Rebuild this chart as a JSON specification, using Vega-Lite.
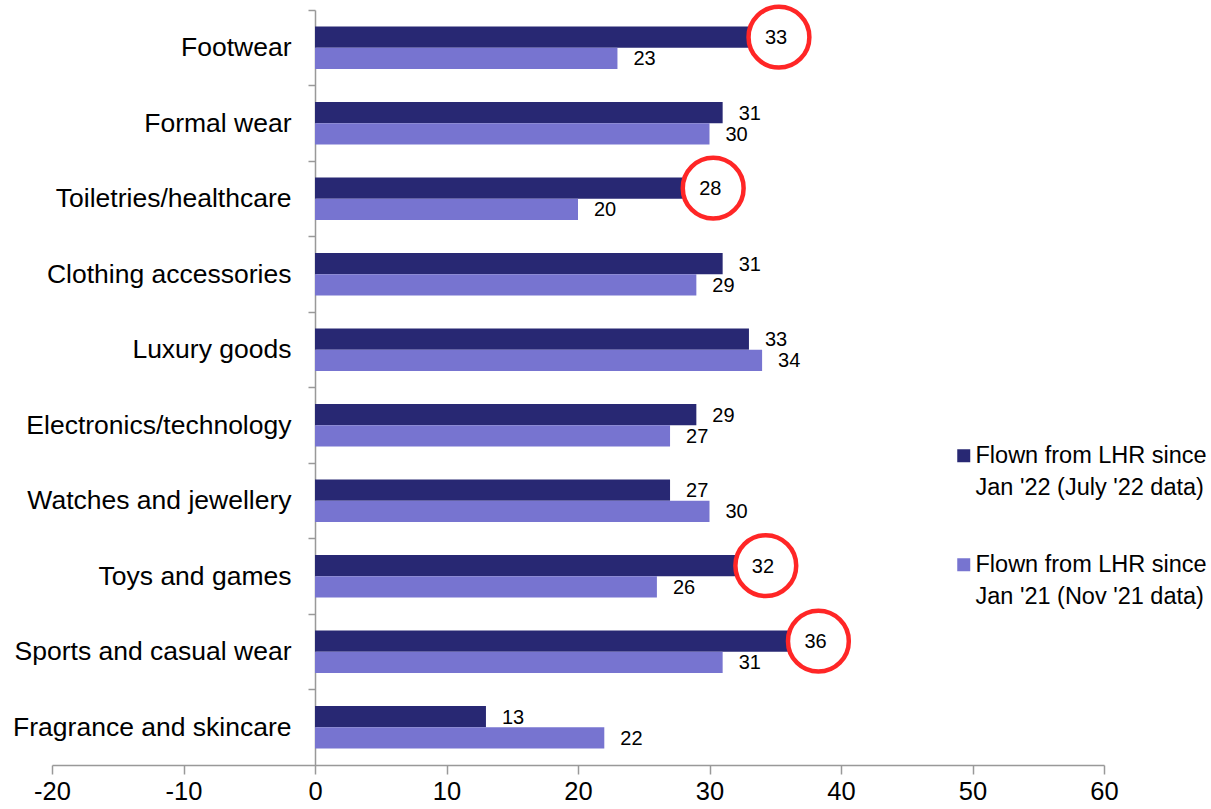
{
  "$schema": "https://vega.github.io/schema/vega-lite/v6.json",
  "width": 1052,
  "height": 755,
  "autosize": "none",
  "padding": {"left": 52, "top": 10, "right": 107, "bottom": 44},
  "background": "white",
  "config": {"view": {"stroke": null}, "font": "Liberation Sans", "style": {"guide-label": {"lineHeight": 32}}},
  "data": {
    "values": [
      {"category": "Footwear", "series": "Flown from LHR since|Jan '22 (July '22 data)", "value": 33},
      {"category": "Footwear", "series": "Flown from LHR since|Jan '21 (Nov '21 data)", "value": 23},
      {"category": "Formal wear", "series": "Flown from LHR since|Jan '22 (July '22 data)", "value": 31},
      {"category": "Formal wear", "series": "Flown from LHR since|Jan '21 (Nov '21 data)", "value": 30},
      {"category": "Toiletries/healthcare", "series": "Flown from LHR since|Jan '22 (July '22 data)", "value": 28},
      {"category": "Toiletries/healthcare", "series": "Flown from LHR since|Jan '21 (Nov '21 data)", "value": 20},
      {"category": "Clothing accessories", "series": "Flown from LHR since|Jan '22 (July '22 data)", "value": 31},
      {"category": "Clothing accessories", "series": "Flown from LHR since|Jan '21 (Nov '21 data)", "value": 29},
      {"category": "Luxury goods", "series": "Flown from LHR since|Jan '22 (July '22 data)", "value": 33},
      {"category": "Luxury goods", "series": "Flown from LHR since|Jan '21 (Nov '21 data)", "value": 34},
      {"category": "Electronics/technology", "series": "Flown from LHR since|Jan '22 (July '22 data)", "value": 29},
      {"category": "Electronics/technology", "series": "Flown from LHR since|Jan '21 (Nov '21 data)", "value": 27},
      {"category": "Watches and jewellery", "series": "Flown from LHR since|Jan '22 (July '22 data)", "value": 27},
      {"category": "Watches and jewellery", "series": "Flown from LHR since|Jan '21 (Nov '21 data)", "value": 30},
      {"category": "Toys and games", "series": "Flown from LHR since|Jan '22 (July '22 data)", "value": 32},
      {"category": "Toys and games", "series": "Flown from LHR since|Jan '21 (Nov '21 data)", "value": 26},
      {"category": "Sports and casual wear", "series": "Flown from LHR since|Jan '22 (July '22 data)", "value": 36},
      {"category": "Sports and casual wear", "series": "Flown from LHR since|Jan '21 (Nov '21 data)", "value": 31},
      {"category": "Fragrance and skincare", "series": "Flown from LHR since|Jan '22 (July '22 data)", "value": 13},
      {"category": "Fragrance and skincare", "series": "Flown from LHR since|Jan '21 (Nov '21 data)", "value": 22}
    ]
  },
  "encoding": {
    "y": {
      "field": "category",
      "type": "nominal",
      "sort": ["Footwear", "Formal wear", "Toiletries/healthcare", "Clothing accessories", "Luxury goods", "Electronics/technology", "Watches and jewellery", "Toys and games", "Sports and casual wear", "Fragrance and skincare"],
      "scale": {"paddingInner": 0.44, "paddingOuter": 0.22},
      "axis": {
        "title": null,
        "offset": -263,
        "domainColor": "#999999",
        "domainWidth": 1.5,
        "tickColor": "#999999",
        "tickWidth": 1.5,
        "tickSize": 7,
        "tickBand": "center",
        "tickOffset": -37.75,
        "labelOffset": 37.75,
        "labelFontSize": 26.5,
        "labelLimit": 0,
        "labelColor": "#000000",
        "labelPadding": 17
      }
    },
    "yOffset": {
      "field": "series",
      "type": "nominal",
      "sort": ["Flown from LHR since|Jan '22 (July '22 data)", "Flown from LHR since|Jan '21 (Nov '21 data)"],
      "scale": {"paddingInner": 0, "paddingOuter": 0}
    },
    "x": {
      "field": "value",
      "type": "quantitative",
      "scale": {"domain": [-20, 60], "nice": false, "zero": false},
      "axis": {
        "title": null,
        "values": [-20, -10, 0, 10, 20, 30, 40, 50, 60],
        "labelExpr": "datum.value + ''",
        "labelFlush": false,
        "labelOverlap": false,
        "grid": false,
        "domainColor": "#999999",
        "domainWidth": 1.5,
        "tickColor": "#999999",
        "tickWidth": 1.5,
        "tickSize": 9,
        "labelFontSize": 25.5,
        "labelColor": "#000000",
        "labelPadding": 5
      }
    }
  },
  "layer": [
    {
      "mark": {"type": "bar"},
      "encoding": {
        "color": {
          "field": "series",
          "type": "nominal",
          "scale": {
            "domain": ["Flown from LHR since|Jan '22 (July '22 data)", "Flown from LHR since|Jan '21 (Nov '21 data)"],
            "range": ["#282873", "#7774D0"]
          },
          "legend": {
            "title": null,
            "orient": "none",
            "legendX": 900,
            "legendY": 434,
            "symbolType": "square",
            "symbolSize": 169,
            "symbolStrokeWidth": 0,
            "labelFontSize": 23.5,
            "labelLimit": 0,
            "labelColor": "#000000",
            "labelExpr": "split(datum.label, '|')",
            "labelBaseline": "middle",
            "labelOffset": 0,
            "rowPadding": 52
          }
        }
      }
    },
    {
      "mark": {"type": "text", "align": "left", "baseline": "middle", "dx": 16, "dy": 1, "fontSize": 20, "color": "#000000"},
      "encoding": {"text": {"field": "value", "type": "quantitative"}}
    },
    {
      "transform": [
        {"filter": "datum.series == \"Flown from LHR since|Jan '22 (July '22 data)\" && indexof(['Footwear', 'Toiletries/healthcare', 'Toys and games', 'Sports and casual wear'], datum.category) >= 0"}
      ],
      "mark": {"type": "point", "shape": "circle", "filled": false, "size": 3700, "stroke": "#FF2626", "strokeWidth": 4.5, "opacity": 1, "xOffset": 30, "yOffset": 2},
      "encoding": {}
    }
  ]
}
